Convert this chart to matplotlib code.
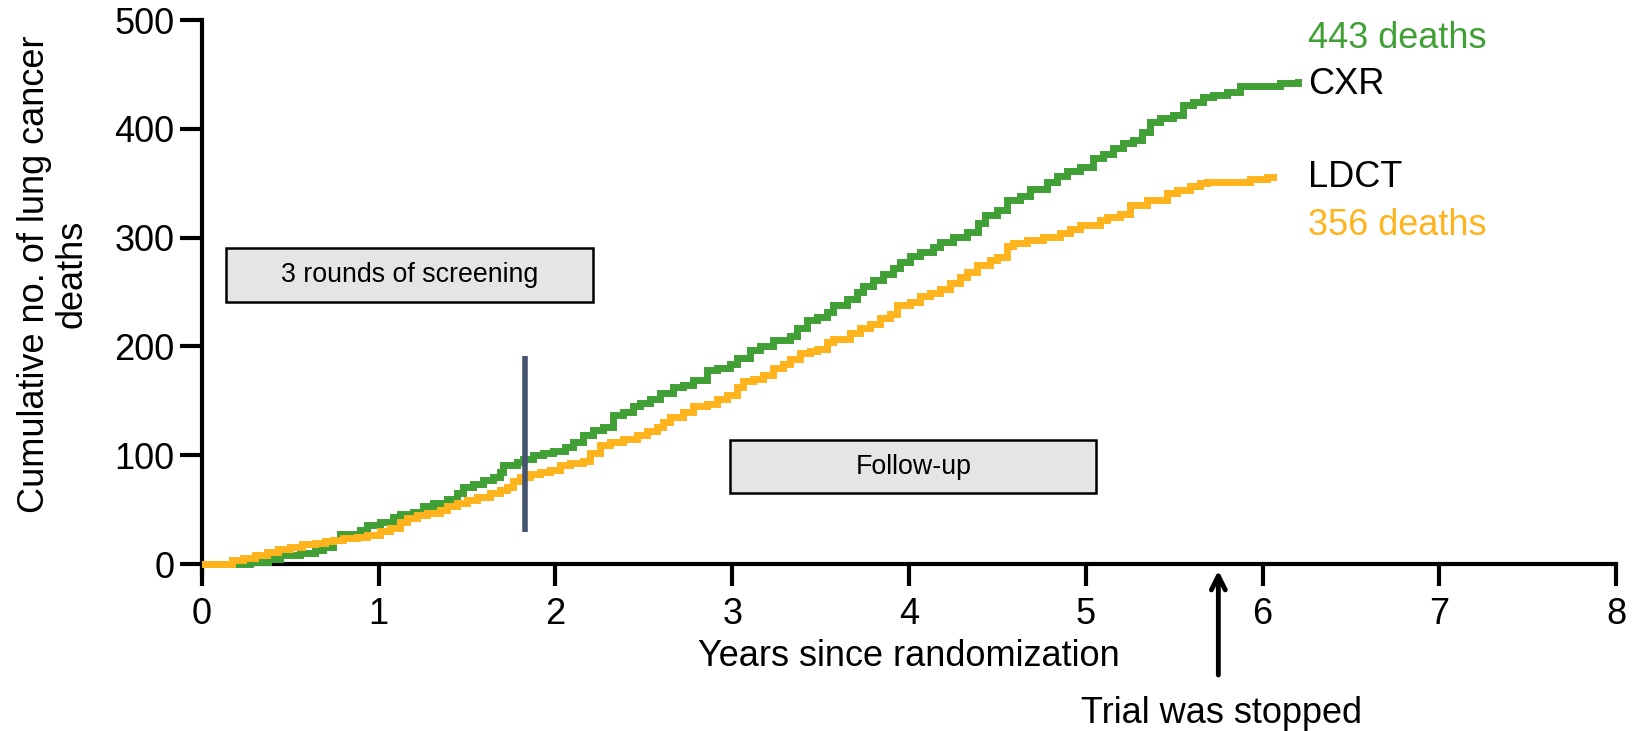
import matplotlib
matplotlib.use("Agg")
import matplotlib.pyplot as plt
from matplotlib.patches import Rectangle

plt.rcParams['font.family'] = ['Liberation Sans', 'DejaVu Sans']

# ---- data ----
cxr_t = [0, 0.272, 0.375, 0.441, 0.554, 0.639, 0.686, 0.743, 0.781, 0.894, 0.932,
         1.007, 1.082, 1.120, 1.196, 1.252, 1.309, 1.384, 1.441, 1.478, 1.535, 1.592,
         1.648, 1.686, 1.705, 1.780, 1.818, 1.875, 1.931, 1.988, 2.054, 2.101, 2.158,
         2.214, 2.271, 2.327, 2.384, 2.441, 2.478, 2.535, 2.591, 2.667, 2.723, 2.780,
         2.855, 2.912, 2.987, 3.025, 3.101, 3.157, 3.233, 3.327, 3.365, 3.421, 3.478,
         3.535, 3.572, 3.647, 3.704, 3.742, 3.799, 3.855, 3.912, 3.949, 4.006, 4.062,
         4.138, 4.175, 4.251, 4.326, 4.392, 4.430, 4.496, 4.553, 4.628, 4.685, 4.779,
         4.835, 4.892, 4.968, 5.043, 5.100, 5.156, 5.213, 5.269, 5.317, 5.364, 5.420,
         5.496, 5.552, 5.609, 5.666, 5.722, 5.798, 5.873, 6.100, 6.202]
cxr_n = [0, 2, 5, 8, 10, 13, 16, 22, 28, 31, 36,
         39, 43, 46, 48, 53, 56, 60, 65, 71, 74, 77,
         80, 85, 91, 94, 97, 100, 102, 104, 108, 112, 119,
         123, 126, 137, 140, 145, 148, 152, 157, 163, 165, 169,
         178, 180, 184, 189, 197, 200, 206, 210, 217, 224, 227,
         232, 238, 244, 250, 256, 261, 267, 272, 278, 283, 287,
         291, 296, 301, 305, 313, 321, 325, 335, 338, 345, 351,
         357, 361, 365, 373, 377, 382, 387, 390, 397, 406, 410,
         413, 422, 425, 429, 431, 434, 439, 442, 443]

ldct_t = [0, 0.168, 0.234, 0.300, 0.366, 0.432, 0.498, 0.564, 0.639, 0.696, 0.743,
          0.799, 0.875, 0.932, 1.007, 1.064, 1.120, 1.158, 1.214, 1.271, 1.347, 1.384,
          1.441, 1.497, 1.554, 1.629, 1.686, 1.724, 1.761, 1.799, 1.856, 1.912, 1.969,
          2.026, 2.082, 2.158, 2.195, 2.252, 2.308, 2.384, 2.459, 2.516, 2.573, 2.610,
          2.648, 2.723, 2.780, 2.855, 2.912, 2.968, 3.025, 3.063, 3.120, 3.176, 3.233,
          3.289, 3.327, 3.384, 3.440, 3.478, 3.535, 3.572, 3.667, 3.723, 3.780, 3.836,
          3.893, 3.931, 4.006, 4.062, 4.119, 4.175, 4.232, 4.289, 4.326, 4.383, 4.458,
          4.496, 4.553, 4.590, 4.666, 4.760, 4.854, 4.911, 4.968, 5.081, 5.118, 5.194,
          5.251, 5.345, 5.458, 5.515, 5.590, 5.647, 5.685, 5.930, 6.024, 6.062]
ldct_n = [0, 4, 6, 8, 11, 14, 16, 18, 19, 21, 22,
          24, 25, 27, 30, 33, 39, 42, 45, 47, 50, 53,
          56, 59, 62, 65, 68, 71, 76, 80, 83, 85, 86,
          91, 93, 95, 102, 109, 112, 115, 119, 122, 126, 131,
          135, 140, 145, 147, 152, 155, 163, 168, 170, 174, 180,
          184, 188, 194, 196, 198, 204, 207, 212, 217, 221, 226,
          230, 238, 241, 246, 249, 253, 258, 264, 268, 275, 279,
          282, 292, 295, 298, 301, 304, 308, 312, 316, 319, 322,
          330, 335, 341, 344, 347, 350, 351, 354, 356, 356]

x_ticks = [0, 1, 2, 3, 4, 5, 6, 7, 8]
y_ticks = [0, 100, 200, 300, 400, 500]

GREEN = '#40A035'
ORANGE = '#FFB31C'
SLATE = '#44546A'

fig = plt.figure(figsize=(16.42, 7.31), dpi=100)
ax = fig.add_axes([0.1230, 0.2150, 0.8612, 0.7576])

ax.step(cxr_t, cxr_n, where='post', color=GREEN, lw=5, solid_joinstyle='miter', zorder=3)
ax.step(ldct_t, ldct_n, where='post', color=ORANGE, lw=5, solid_joinstyle='miter', zorder=3)

ax.set_xlim(0, 8)
ax.set_ylim(-9, 500)
ax.set_xticks(x_ticks)
ax.set_yticks(y_ticks)
ax.tick_params(axis='both', labelsize=26, width=3, length=16, direction='out')
ax.tick_params(axis='x', pad=8)
ax.tick_params(axis='y', pad=4)

for s in ['top', 'right']:
    ax.spines[s].set_visible(False)
ax.spines['left'].set_linewidth(3)
ax.spines['bottom'].set_linewidth(3)
ax.spines['bottom'].set_position(('data', 0))
ax.spines['left'].set_bounds(-9, 500)

ax.set_xlabel('Years since randomization', fontsize=26, labelpad=5)
ax.text(-0.105, 0.5415, 'Cumulative no. of lung cancer\ndeaths', transform=ax.transAxes,
        rotation=90, ha='center', va='center', multialignment='center',
        fontsize=26, linespacing=1.1, clip_on=False)

# boxes
ax.add_patch(Rectangle((0.136, 240.8), 2.074, 49.6, facecolor='#E5E5E5',
                       edgecolor='black', lw=1.8, zorder=2))
ax.text(0.136 + 2.074 / 2, 240.8 + 49.6 / 2, '3 rounds of screening', ha='center',
        va='center', fontsize=19.3, zorder=4)
ax.add_patch(Rectangle((2.99, 65.3), 2.07, 48.7, facecolor='#E5E5E5',
                       edgecolor='black', lw=1.8, zorder=2))
ax.text(2.99 + 2.07 / 2, 65.3 + 48.7 / 2, 'Follow-up', ha='center', va='center',
        fontsize=19.3, zorder=4)

# end of screening marker
ax.plot([1.83, 1.83], [29.4, 191], color=SLATE, lw=4, solid_capstyle='butt', zorder=4)

# end labels
ax.text(6.26, 483, '443 deaths', color=GREEN, fontsize=26, ha='left', va='center')
ax.text(6.26, 441, 'CXR', color='black', fontsize=26, ha='left', va='center')
ax.text(6.26, 355, 'LDCT', color='black', fontsize=26, ha='left', va='center')
ax.text(6.26, 311.5, '356 deaths', color=ORANGE, fontsize=26, ha='left', va='center')

# trial stopped arrow
ax.annotate('', xy=(5.75, -6), xytext=(5.75, -102), annotation_clip=False,
            arrowprops=dict(arrowstyle='->,head_length=1.0,head_width=0.5', lw=3.5,
                            color='black', shrinkA=0, shrinkB=0))
ax.text(5.77, -137, 'Trial was stopped', ha='center', va='center', fontsize=26,
        clip_on=False)

fig.savefig('out.png', dpi=100)
